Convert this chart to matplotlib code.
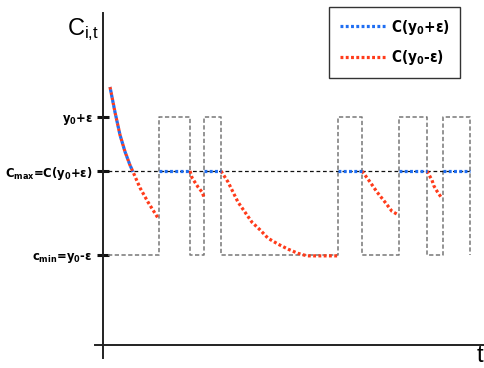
import matplotlib
matplotlib.use("Agg")
import matplotlib.pyplot as plt
from matplotlib.lines import Line2D

FAM = ['DejaVu Sans']
plt.rcParams['mathtext.fontset'] = 'custom'
plt.rcParams['mathtext.rm'] = 'DejaVu Sans:weight=bold:stretch=condensed'
plt.rcParams['mathtext.it'] = 'DejaVu Sans:weight=bold:stretch=condensed'
plt.rcParams['mathtext.bf'] = 'DejaVu Sans:weight=bold:stretch=condensed'

# ---- data ----
c_min = 1.0
c_max = 2.0
y_high = 2.64
level_ticks = [c_min, c_max, y_high]
tick_labels = [r'c$_{min}$=y$_0$-ε', r'C$_{max}$=C(y$_0$+ε)', r'y$_0$+ε']
legend_labels = [r'C(y$_0$+ε)', r'C(y$_0$-ε)']

# square-wave input switching times (starts low)
wave_start = 5
switch_times = [56, 87, 101, 118, 235, 259, 296, 324, 340, 367]

# decaying C(y0-ε) segments (t, value)
dec1_t = [7, 12, 17, 22, 27, 30, 37, 45, 55]
dec1_y = [3.00, 2.70, 2.43, 2.23, 2.07, 1.99, 1.80, 1.63, 1.44]
dec2_t = [87, 89, 95, 99, 101]
dec2_y = [2.00, 1.92, 1.81, 1.75, 1.69]
dec3_t = [118, 125, 130, 135, 142, 149, 157, 165, 175, 185, 195, 204, 235]
dec3_y = [2.00, 1.87, 1.75, 1.63, 1.51, 1.39, 1.30, 1.20, 1.13, 1.07, 1.02, 0.99, 0.99]
dec4_t = [259, 267, 274, 282, 289, 295]
dec4_y = [2.00, 1.87, 1.75, 1.63, 1.52, 1.48]
dec5_t = [324, 329, 331, 334, 338]
dec5_y = [2.00, 1.89, 1.82, 1.76, 1.69]

# plateaus at C(y0+ε)
plateaus = [(56, 87), (101, 118), (235, 259), (296, 324), (340, 367)]

RED = '#FF3B1A'
BLUE = '#1F6EF2'

fig = plt.figure(figsize=(4.85, 3.68), dpi=100)
ax = fig.add_axes([0, 0, 1, 1])
ax.set_xlim(-103, 382)
ax.set_ylim(-0.345, 4.036)
ax.patch.set_alpha(0)

# square wave
wx = [wave_start]
wy = [c_min]
state = c_min
for s in switch_times:
    wx.append(s); wy.append(state)
    state = y_high if state == c_min else c_min
    wx.append(s); wy.append(state)
ax.plot(wx, wy, color='#777777', lw=1.1, ls=(0, (2.8, 1.6)), zorder=2)

# Cmax reference line
ax.plot([wave_start, 369], [c_max, c_max], color='#111111', lw=0.9,
        ls=(0, (3, 2.2)), zorder=2)

dot = (0, (0.9, 0.75))
dot_off = (0.82, (0.9, 0.75))
lw = 2.3

red_kw = dict(color=RED, lw=lw, ls=dot, zorder=3, dash_capstyle='butt')
for tt, yy in [(dec1_t, dec1_y), (dec2_t, dec2_y), (dec3_t, dec3_y),
               (dec4_t, dec4_y), (dec5_t, dec5_y)]:
    ax.plot(tt, yy, **red_kw)

# blue overlap on first decay (above Cmax)
b_t = [t for t, y in zip(dec1_t, dec1_y) if y >= c_max - 0.01]
b_y = [y for y in dec1_y if y >= c_max - 0.01]
ax.plot(b_t, b_y, color=BLUE, lw=lw, ls=dot_off, zorder=4, dash_capstyle='butt')
for a, b in plateaus:
    ax.plot([a, b], [c_max, c_max], color=BLUE, lw=lw, ls=dot, zorder=4, dash_capstyle='butt')

# axes
for s in ['top', 'right']:
    ax.spines[s].set_visible(False)
ax.spines['left'].set_position(('data', 0))
ax.spines['bottom'].set_position(('data', -0.07))
ax.spines['left'].set_bounds(-0.23, 3.88)
ax.spines['bottom'].set_bounds(-8, 382)
for s in ['left', 'bottom']:
    ax.spines[s].set_linewidth(1.4)
    ax.spines[s].set_color('#222222')
ax.set_xticks([])
ax.set_yticks(level_ticks)
ax.set_yticklabels(tick_labels)
ax.tick_params(axis='y', direction='inout', length=8, width=2.2, color='#111111', pad=3.5)
for lab in ax.get_yticklabels():
    lab.set_fontfamily(FAM)
    lab.set_fontweight('bold')
    lab.set_fontstretch('condensed')
    lab.set_fontsize(9.3)

ax.text(-4, 3.68, r'$\mathregular{C_{i{,}t}}$', ha='right', va='center', fontsize=17,
        family=['Liberation Sans', 'DejaVu Sans'])
ax.text(377, -0.2, 't', ha='center', va='center', fontsize=17,
        family=['Liberation Sans', 'DejaVu Sans'])

handles = [Line2D([], [], color=BLUE, lw=lw, ls=dot, dash_capstyle='butt'),
           Line2D([], [], color=RED, lw=lw, ls=dot, dash_capstyle='butt')]
leg = ax.legend(handles, legend_labels, loc='upper left',
                bbox_to_anchor=(329 / 485, 1 - 7 / 368), bbox_transform=fig.transFigure,
                borderaxespad=0, fancybox=False, edgecolor='#333333', framealpha=1,
                prop={'family': FAM, 'weight': 'bold', 'size': 11, 'stretch': 'condensed'},
                handlelength=3.0, handletextpad=0.35, labelspacing=0.75,
                borderpad=0.7)
leg.get_frame().set_linewidth(1.0)

fig.savefig('out.png', dpi=100)
